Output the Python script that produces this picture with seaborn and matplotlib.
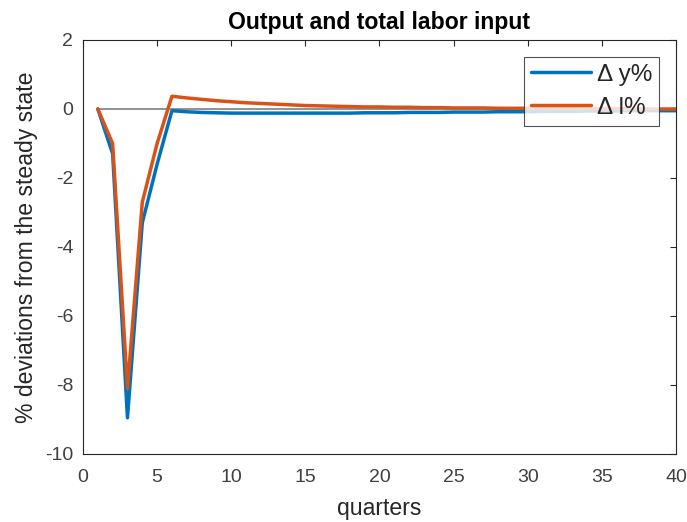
import numpy as np
import pandas as pd
import matplotlib
matplotlib.use("Agg")
import matplotlib.pyplot as plt
import seaborn as sns

quarters = list(range(1, 41))
dy = [0.0, -1.3, -8.95, -3.3, -1.6, -0.05, -0.08, -0.10, -0.11, -0.12,
      -0.12, -0.12, -0.12, -0.12, -0.12, -0.12, -0.12, -0.12, -0.11, -0.11,
      -0.11, -0.10, -0.10, -0.10, -0.09, -0.09, -0.09, -0.08, -0.08, -0.08,
      -0.07, -0.07, -0.07, -0.06, -0.06, -0.06, -0.05, -0.05, -0.05, -0.05]
dl = [0.0, -1.0, -8.1, -2.7, -1.0, 0.37, 0.32, 0.28, 0.24, 0.21,
      0.18, 0.16, 0.14, 0.12, 0.10, 0.09, 0.08, 0.07, 0.06, 0.06,
      0.05, 0.05, 0.04, 0.04, 0.03, 0.03, 0.03, 0.02, 0.02, 0.02,
      0.02, 0.01, 0.01, 0.01, 0.01, 0.01, 0.0, 0.0, 0.0, 0.0]
series_names = ["\u0394 y%", "\u0394 l%"]
colors = ["#0072BD", "#D95319"]
xticks = list(range(0, 41, 5))
yticks = list(range(-10, 3, 2))

df = pd.DataFrame({
    "quarters": quarters * 2,
    "value": dy + dl,
    "series": [series_names[0]] * len(quarters) + [series_names[1]] * len(quarters),
})

sns.set_theme(style="white")
plt.rcParams["font.family"] = ["Liberation Sans", "DejaVu Sans"]
plt.rcParams["axes.unicode_minus"] = False

fig = plt.figure(figsize=(6.87, 5.22), dpi=100)
ax = fig.add_axes([0.1208, 0.1303, 0.8632, 0.7931])

# steady-state reference line
ax.plot([quarters[0], quarters[-1]], [0, 0], color="#7f7f7f", lw=1.2, zorder=1)

sns.lineplot(data=df, x="quarters", y="value", hue="series",
             palette=colors, linewidth=2.5, ax=ax, zorder=3)

ax.set_xlim(0, 40)
ax.set_ylim(-10, 2)
ax.set_xticks(xticks)
ax.set_yticks(yticks)
ax.tick_params(direction="in", length=4, width=0.8, colors="#262626",
               labelsize=14, top=True, right=True)
ax.tick_params(axis="x", labelcolor="#404040", pad=11)
ax.tick_params(axis="y", labelcolor="#404040", pad=7)
for s in ax.spines.values():
    s.set_color("#262626")
    s.set_linewidth(0.8)
    s.set_visible(True)

ax.set_title("Output and total labor input", fontsize=16.6, fontweight="bold",
             color="black", pad=8)
ax.set_xlabel("quarters", fontsize=16.6, color="#262626", labelpad=8)
ax.set_ylabel("% deviations from the steady state", fontsize=16.6,
              color="#262626", labelpad=5)

leg = ax.legend(loc="upper right", fontsize=17.5, frameon=True, fancybox=False,
                handlelength=2.5, borderaxespad=0.7, borderpad=0.28,
                labelspacing=0.45, handletextpad=0.22)
leg.get_frame().set_edgecolor("#262626")
leg.get_frame().set_linewidth(0.8)
for h in leg.get_lines():
    h.set_linewidth(2.5)

fig.savefig("out.png", dpi=100)
